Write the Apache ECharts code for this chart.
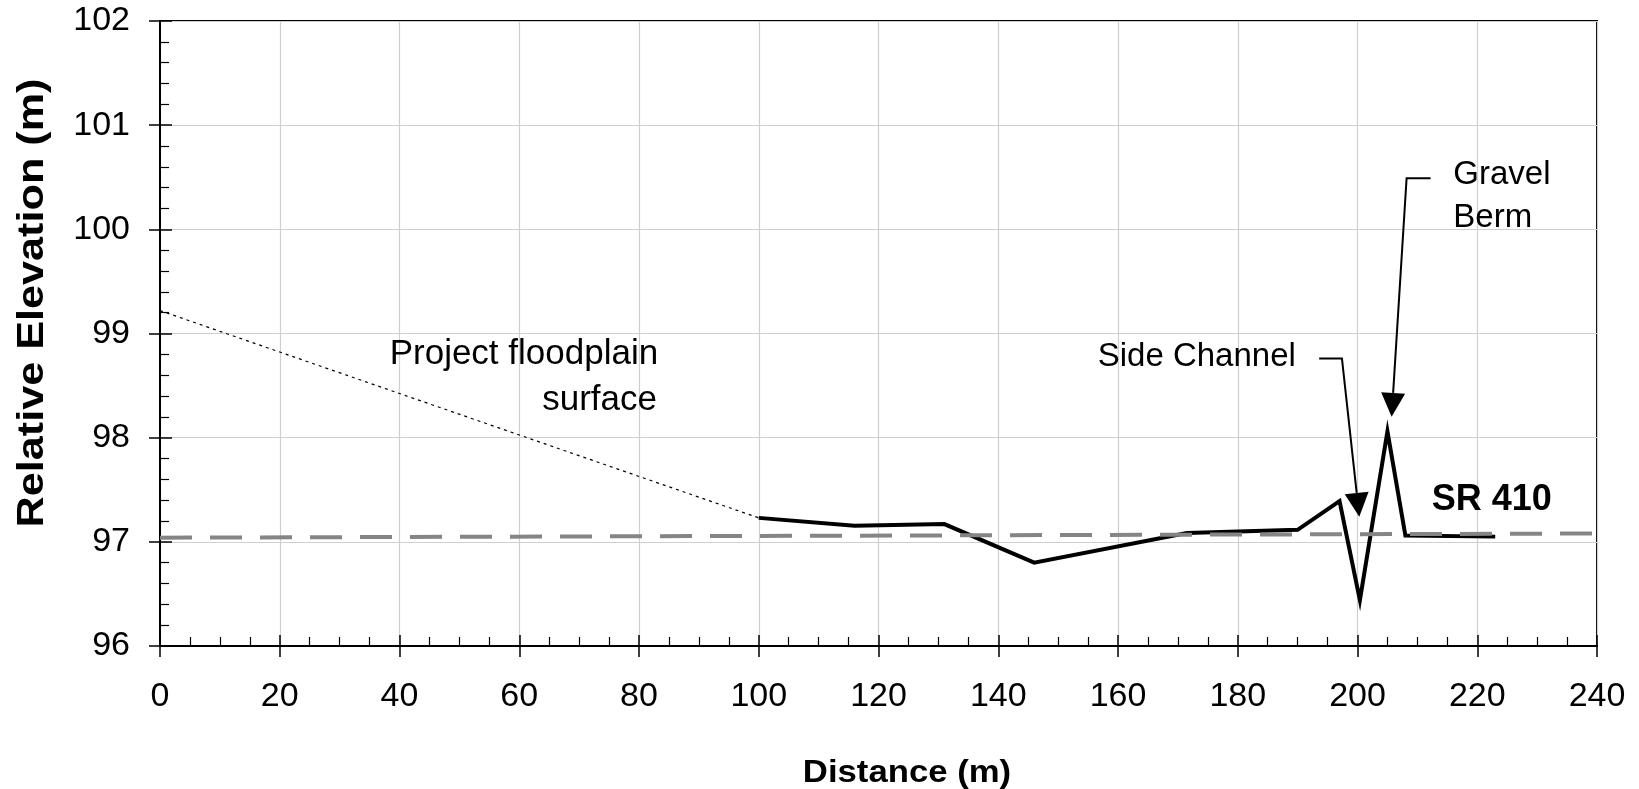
<!DOCTYPE html>
<html>
<head>
<meta charset="utf-8">
<script src="https://cdn.jsdelivr.net/npm/echarts@6/dist/echarts.min.js"></script>
<style>
  html, body { margin: 0; padding: 0; background: #fff; }
  #chart { width: 1639px; height: 789px; }
</style>
</head>
<body>
<div id="chart"></div>
<script>
// surveyed ground profile
const groundDist = [100, 116, 131, 146, 171.5, 190, 197, 200.4, 205, 208, 223];
const groundElev = [97.23, 97.155, 97.17, 96.80, 97.085, 97.115, 97.39, 96.44, 98.06, 97.06, 97.05];
// projected floodplain surface
const floodDist = [0, 100];
const floodElev = [99.22, 97.23];
// SR 410 line
const roadDist = [0, 240];
const roadElev = [97.04, 97.08];

// leader lines for the notes (data coords, last point = arrow tip)
const sideChannelLeader = [[193.6, 98.76], [197.4, 98.76], [200.3, 97.24]];
const gravelBermLeader = [[212.2, 100.49], [208.2, 100.49], [205.7, 98.2]];

const FONT = '"Liberation Sans", Arial, sans-serif';

function pairs(xs, ys) {
  return xs.map((x, i) => [x, ys[i]]);
}

const chart = echarts.init(document.getElementById('chart'));

const baseX = { type: 'value', min: 0, max: 240, interval: 20, position: 'bottom' };
const baseY = { type: 'value', min: 96, max: 102, interval: 1, position: 'left' };

chart.setOption({
  animation: false,
  grid: { left: 160, right: 42, top: 21, bottom: 143, show: true, borderColor: '#000', borderWidth: 2 },
  xAxis: [
    Object.assign({}, baseX, {
      axisLine: { lineStyle: { color: '#000', width: 2 } },
      axisTick: { length: 11, lineStyle: { color: '#000', width: 1.5 } },
      axisLabel: { color: '#000', fontSize: 34, fontFamily: FONT, margin: 34 },
      splitLine: { show: true, lineStyle: { color: '#cfcfcf', width: 1.2 } }
    }),
    // inner ticks
    Object.assign({}, baseX, {
      axisLine: { show: false },
      axisTick: { inside: true, length: 11, lineStyle: { color: '#000', width: 1.5 } },
      minorTick: { show: true, splitNumber: 4, length: 9, lineStyle: { color: '#000', width: 1.2 } },
      axisLabel: { show: false },
      splitLine: { show: false }
    })
  ],
  yAxis: [
    Object.assign({}, baseY, {
      axisLine: { lineStyle: { color: '#000', width: 2 } },
      axisTick: { length: 11, lineStyle: { color: '#000', width: 1.5 } },
      axisLabel: { color: '#000', fontSize: 34, fontFamily: FONT, margin: 30 },
      splitLine: { show: true, lineStyle: { color: '#cfcfcf', width: 1.2 } }
    }),
    Object.assign({}, baseY, {
      axisLine: { show: false },
      axisTick: { inside: true, length: 12, lineStyle: { color: '#000', width: 1.5 } },
      minorTick: { show: true, splitNumber: 5, length: 9, lineStyle: { color: '#000', width: 1.2 } },
      axisLabel: { show: false },
      splitLine: { show: false }
    })
  ],
  series: [
    {
      name: 'Project floodplain surface',
      type: 'line',
      data: pairs(floodDist, floodElev),
      showSymbol: false,
      lineStyle: { color: '#000', width: 1.2, type: [3, 4] },
      z: 2
    },
    {
      name: 'Ground',
      type: 'line',
      data: pairs(groundDist, groundElev),
      showSymbol: false,
      lineStyle: { color: '#000', width: 4, join: 'miter' },
      z: 3
    },
    {
      name: 'SR 410',
      type: 'line',
      data: pairs(roadDist, roadElev),
      showSymbol: false,
      lineStyle: { color: '#858585', width: 4, type: [32, 18] },
      z: 4
    }
  ]
});

// notes, leaders and axis titles drawn on top
const px = p => chart.convertToPixel({ xAxisIndex: 0, yAxisIndex: 0 }, p);

function leader(pts) {
  const pix = pts.map(px);
  const tip = pix[pix.length - 1];
  const prev = pix[pix.length - 2];
  const dx = tip[0] - prev[0], dy = tip[1] - prev[1];
  const len = Math.sqrt(dx * dx + dy * dy);
  const ux = dx / len, uy = dy / len;
  const headLen = 24, half = 12;
  const base = [tip[0] - ux * headLen, tip[1] - uy * headLen];
  const line = pix.slice(0, -1).concat([base]);
  return [
    { type: 'polyline', shape: { points: line }, style: { stroke: '#000', lineWidth: 2, fill: null }, z: 10 },
    {
      type: 'polygon',
      shape: { points: [tip, [base[0] - uy * half, base[1] + ux * half], [base[0] + uy * half, base[1] - ux * half]] },
      style: { fill: '#000' }, z: 10
    }
  ];
}

function note(text, at, align, font) {
  const p = px(at);
  return {
    type: 'text', x: p[0], y: p[1], z: 10,
    style: { text: text, fill: '#000', align: align, verticalAlign: 'middle', font: font + ' ' + FONT }
  };
}

chart.setOption({
  graphic: [].concat(
    leader(sideChannelLeader),
    leader(gravelBermLeader),
    [
      note('Project floodplain', [83.2, 98.8], 'right', '35px'),
      note('surface', [83.0, 98.36], 'right', '35px'),
      note('Side Channel', [189.7, 98.78], 'right', '33px'),
      note('Gravel', [216.0, 100.52], 'left', '33px'),
      note('Berm', [216.0, 100.11], 'left', '33px'),
      note('SR 410', [212.4, 97.4], 'left', 'bold 36px'),
      {
        type: 'text', x: 33, y: 303, rotation: Math.PI / 2, scaleX: 1.2, z: 10,
        style: { text: 'Relative Elevation (m)', fill: '#000', align: 'center', verticalAlign: 'middle', font: 'bold 36px ' + FONT }
      },
      {
        type: 'text', x: 907, y: 773, scaleX: 1.12, z: 10,
        style: { text: 'Distance (m)', fill: '#000', align: 'center', verticalAlign: 'middle', font: 'bold 31px ' + FONT }
      }
    ]
  )
});
</script>
</body>
</html>
